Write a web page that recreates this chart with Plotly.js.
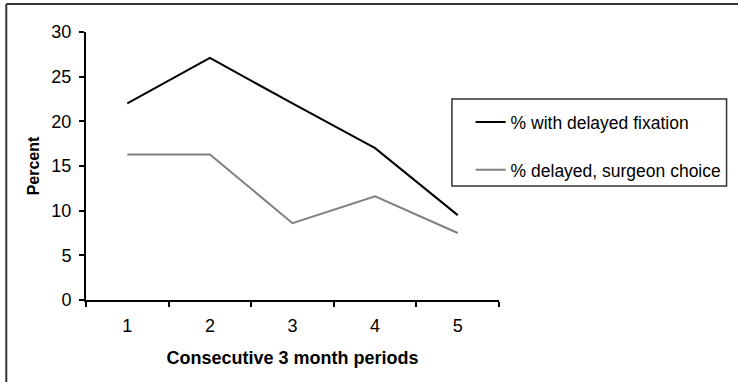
<!DOCTYPE html>
<html>
<head>
<meta charset="utf-8">
<script src="https://cdn.plot.ly/plotly-3.0.1.min.js"></script>
<style>html,body{margin:0;padding:0;background:#fff;}#chart{width:738px;height:382px;}</style>
</head>
<body>
<div id="chart"></div>
<script>
const periods = ["1", "2", "3", "4", "5"];
const delayedFixation = [22.0, 27.1, 22.0, 17.0, 9.5];
const surgeonChoice = [16.3, 16.3, 8.6, 11.6, 7.5];
const seriesNames = ["% with delayed fixation", "% delayed, surgeon choice"];

const font = "Arial, 'Liberation Sans', sans-serif";
const traces = [
  {x: periods, y: delayedFixation, name: seriesNames[0], type: "scatter", mode: "lines",
   line: {color: "#000000", width: 2}, legendgroup: "a"},
  {x: periods, y: surgeonChoice, name: seriesNames[1], type: "scatter", mode: "lines",
   line: {color: "#808080", width: 2}, legendgroup: "b"}
];
const layout = {
  width: 738, height: 382,
  margin: {l: 86, r: 238, t: 32, b: 82},
  paper_bgcolor: "#ffffff", plot_bgcolor: "#ffffff",
  font: {family: font, size: 16, color: "#000"},
  showlegend: true,
  legend: {x: 0.929, y: 0.731, xanchor: "left", yanchor: "top",
    bgcolor: "rgba(0,0,0,0)", borderwidth: 0, font: {family: font, size: 17.5, color: "#000"},
    traceorder: "grouped", tracegroupgap: 22},
  xaxis: {type: "category", tickson: "boundaries", range: [-0.5, 4.5],
    showline: true, linecolor: "#000", linewidth: 2, ticks: "outside", ticklen: 5, tickwidth: 2, tickcolor: "#000",
    showgrid: false, zeroline: false, tickfont: {size: 18}, ticklabelstandoff: 8,
    title: {text: "<b>Consecutive 3 month periods</b>", font: {size: 18}, standoff: 17}},
  yaxis: {range: [0, 30], dtick: 5, showline: true, linecolor: "#000", linewidth: 2,
    ticks: "outside", ticklen: 5, tickwidth: 2, tickcolor: "#000", showgrid: false, zeroline: false,
    tickfont: {size: 18}, ticklabelstandoff: 4,
    title: {text: "<b>Percent</b>", font: {size: 16}, standoff: 8}},
  shapes: [
    {type: "line", xref: "paper", yref: "paper", x0: -0.193, x1: -0.193, y0: 1.1045, y1: -0.35,
     line: {color: "#333", width: 2}},
    {type: "line", xref: "paper", yref: "paper", x0: -0.193, x1: 1.6, y0: 1.1045, y1: 1.1045,
     line: {color: "#333", width: 2}},
    {type: "rect", xref: "paper", yref: "paper", x0: 0.886, x1: 1.551, y0: 0.75, y1: 0.425,
     line: {color: "#333", width: 1.5}}
  ]
};
Plotly.newPlot("chart", traces, layout, {displayModeBar: false, staticPlot: true});
</script>
</body>
</html>
